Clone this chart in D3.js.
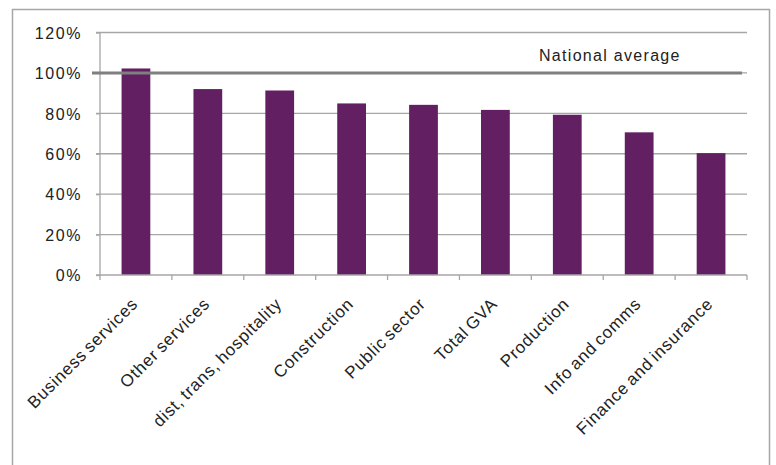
<!DOCTYPE html>
<html><head><meta charset="utf-8">
<script src="https://cdn.jsdelivr.net/npm/d3@7"></script>
<style>body{margin:0;background:#fff}svg{display:block;font-family:"Liberation Sans",Arial,sans-serif}</style>
</head><body>
<script>
const categories = ["Business services","Other services","dist, trans, hospitality","Construction","Public sector","Total GVA","Production","Info and comms","Finance and insurance"];
const values = [102.2, 92.0, 91.3, 84.9, 84.2, 81.7, 79.3, 70.6, 60.3];
const yTicks = [0, 20, 40, 60, 80, 100, 120];
const nationalAverage = 100;
const nationalLabel = "National average";

(function () {
const W = 776, H = 465;
const svg = d3.select("body").append("svg").attr("width", W).attr("height", H);

svg.append("rect").attr("x", 12.5).attr("y", 9.5).attr("width", 757).attr("height", 480)
  .attr("fill", "#fff").attr("stroke", "#a6a6a6").attr("stroke-width", 1.5);

const pl = 100, pr = 747, pt = 32.5, pb = 275;
const x = d3.scaleBand().domain(categories).range([pl, pr]).paddingInner(0.6).paddingOuter(0.3);
const y = d3.scaleLinear().domain([0, 120]).range([pb, pt]);

// gridlines
svg.append("g").selectAll("line").data(yTicks.filter(d => d > 0)).join("line")
  .attr("x1", pl - 4).attr("x2", pr).attr("y1", d => y(d)).attr("y2", d => y(d))
  .attr("stroke", "#a6a6a6").attr("stroke-width", 1.3);

// y axis
const yAxis = d3.axisLeft(y).tickValues(yTicks).tickSize(4).tickPadding(14).tickFormat(d => d + "%");
const gy = svg.append("g").attr("transform", `translate(${pl},0)`).call(yAxis);
gy.select(".domain").attr("stroke", "#a6a6a6").attr("stroke-width", 1.3).attr("d", `M-4,${pb}H0V${pt}`);
gy.selectAll(".tick line").attr("stroke", "#a6a6a6").attr("stroke-width", 1.3);
gy.selectAll(".tick text").attr("font-size", 16).attr("letter-spacing", "1.6px").attr("fill", "#222")
  .attr("font-family", "Liberation Sans, Arial, sans-serif").attr("dy", "0.36em");

// bars
svg.append("g").selectAll("rect").data(values).join("rect")
  .attr("x", (d, i) => x(categories[i])).attr("width", x.bandwidth())
  .attr("y", d => y(d)).attr("height", d => pb - y(d))
  .attr("fill", "#621f61");

// x axis
const gx = svg.append("g").attr("transform", `translate(0,${pb})`);
gx.append("line").attr("x1", pl).attr("x2", pr).attr("y1", 0).attr("y2", 0)
  .attr("stroke", "#a6a6a6").attr("stroke-width", 1.3);
const bounds = d3.range(categories.length + 1).map(i => pl + (pr - pl) * i / categories.length);
gx.selectAll("line.t").data(bounds).join("line").attr("class", "t")
  .attr("x1", d => d).attr("x2", d => d).attr("y1", 0).attr("y2", 5)
  .attr("stroke", "#a6a6a6").attr("stroke-width", 1.3);
gx.selectAll("text").data(categories).join("text")
  .attr("transform", d => `translate(${x(d) + x.bandwidth() / 2 + 3},30) rotate(-45)`)
  .attr("text-anchor", "end").attr("font-size", 17).attr("letter-spacing", "0.8px").attr("word-spacing", "-2px")
  .attr("fill", "#222")
  .text(d => d);

// national average line
svg.append("line").attr("x1", pl - 8).attr("x2", 742).attr("y1", y(nationalAverage)).attr("y2", y(nationalAverage))
  .attr("stroke", "#7f7f7f").attr("stroke-width", 3);
svg.append("text").attr("x", 539).attr("y", 60.5).attr("font-size", 16).attr("letter-spacing", "1.3px")
  .attr("fill", "#222").text(nationalLabel);
})();
</script>
</body></html>
